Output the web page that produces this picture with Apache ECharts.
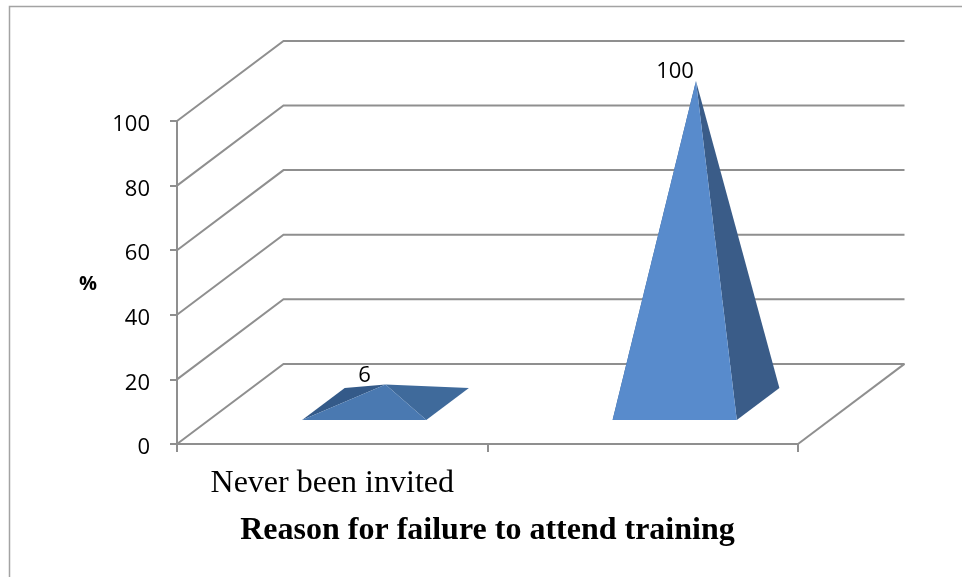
<!DOCTYPE html>
<html>
<head>
<meta charset="utf-8">
<style>
  html, body { margin: 0; padding: 0; background: #ffffff; }
  #chart { width: 962px; height: 577px; }
</style>
<script src="https://cdn.jsdelivr.net/npm/echarts@6/dist/echarts.min.js"></script>
</head>
<body>
<div id="chart"></div>
<script>
// Survey result: share of respondents per reason, shown as 3D pyramids.
const categories = ['Never been invited', ''];
const values = [6, 100];
const yTicks = [0, 20, 40, 60, 80, 100];
const xAxisTitle = 'Reason for failure to attend training';
const yAxisTitle = '%';

// Face shades per pyramid: left, right, front.
const leftFaceColors = ['#345A89', '#345A89'];
const rightFaceColors = ['#3F6A9B', '#3A5C88'];
const frontFaceColors = ['#4A79B1', '#588BCC'];

const LINE_COLOR = '#8f8f8f';
// Oblique projection: how far the full floor depth shifts a point,
// as a share of the band width and in value units.
const DEPTH_X = 0.343;
const DEPTH_Y = 24.8;
// Pyramid footprint within the floor, in band widths and depth fractions.
const HALF_BASE = 0.2;
const DEPTH_FRONT = 0.3;
const DEPTH_BACK = 0.7;
const DEPTH_APEX = 0.5;

// Projects a point in (category, offset along band, value, depth) to pixels.
function project(api, cat, u, val, depth) {
  const base = api.coord([cat, val]);
  const size = api.size([1, 1]);
  return [
    base[0] + (u + depth * DEPTH_X) * size[0],
    base[1] - depth * DEPTH_Y * size[1]
  ];
}

const lineStyle = { stroke: LINE_COLOR, lineWidth: 2, fill: null };

// Back wall lines with their diagonals on the side wall.
function renderWall(params, api) {
  const v = api.value(0);
  const last = categories.length - 1;
  const children = [{
    type: 'polyline',
    shape: {
      points: [
        project(api, 0, -0.5, v, 0),
        project(api, 0, -0.5, v, 1),
        project(api, last, 0.5, v, 1)
      ]
    },
    style: lineStyle
  }];
  // The floor also closes on the right-hand side.
  if (v === yTicks[0]) {
    children.push({
      type: 'line',
      shape: (function () {
        const a = project(api, last, 0.5, v, 1);
        const b = project(api, last, 0.5, v, 0);
        return { x1: a[0], y1: a[1], x2: b[0], y2: b[1] };
      })(),
      style: { stroke: LINE_COLOR, lineWidth: 2 }
    });
  }
  return { type: 'group', children: children };
}

function renderPyramid(params, api) {
  const i = params.dataIndex;
  const v = api.value(1);
  const fl = project(api, i, -HALF_BASE, 0, DEPTH_FRONT);
  const fr = project(api, i, HALF_BASE, 0, DEPTH_FRONT);
  const bl = project(api, i, -HALF_BASE, 0, DEPTH_BACK);
  const br = project(api, i, HALF_BASE, 0, DEPTH_BACK);
  const apex = project(api, i, 0, v, DEPTH_APEX);
  const face = function (pts, color) {
    return { type: 'polygon', shape: { points: pts }, style: { fill: color } };
  };
  return {
    type: 'group',
    children: [
      face([bl, apex, fl], leftFaceColors[i]),
      face([fr, apex, br], rightFaceColors[i]),
      face([fl, apex, fr], frontFaceColors[i]),
      {
        type: 'text',
        style: {
          text: String(values[i]),
          x: apex[0] - 21,
          y: apex[1] - 9,
          align: 'center',
          verticalAlign: 'middle',
          fill: '#000000',
          font: '22px "Open Sans"'
        }
      }
    ]
  };
}

const chart = echarts.init(document.getElementById('chart'), null, { renderer: 'canvas' });
chart.setOption({
  animation: false,
  backgroundColor: '#ffffff',
  graphic: [{
    // Outer chart frame: runs off the page on the right and bottom.
    type: 'polyline',
    silent: true,
    shape: { points: [[9.5, 577], [9.5, 6.5], [962, 6.5]] },
    style: { stroke: '#a3a3a3', lineWidth: 1.5, fill: null }
  }],
  grid: { left: 177, right: 164, top: 121, bottom: 133 },
  xAxis: {
    type: 'category',
    data: categories,
    name: xAxisTitle,
    nameLocation: 'middle',
    nameGap: 71,
    nameTextStyle: { fontFamily: 'Liberation Serif', fontWeight: 'bold', fontSize: 32, color: '#000' },
    axisLine: { lineStyle: { color: LINE_COLOR, width: 2 } },
    axisTick: { show: true, length: 8, alignWithLabel: false, lineStyle: { color: LINE_COLOR, width: 2 } },
    axisLabel: { interval: 0, margin: 24, fontFamily: 'Liberation Serif', fontSize: 32, color: '#000' },
    splitLine: { show: false }
  },
  yAxis: {
    type: 'value',
    min: 0,
    max: 100,
    interval: 20,
    name: yAxisTitle,
    nameLocation: 'middle',
    nameRotate: 0,
    nameGap: 80,
    nameTextStyle: { fontFamily: 'Open Sans', fontWeight: 'bold', fontSize: 20, color: '#000', verticalAlign: 'top', lineHeight: 3 },
    axisLine: { show: true, lineStyle: { color: LINE_COLOR, width: 2 } },
    axisTick: { show: true, length: 7, lineStyle: { color: LINE_COLOR, width: 2 } },
    axisLabel: { margin: 27, fontFamily: 'Open Sans', fontSize: 22, color: '#000', verticalAlign: 'top', lineHeight: 8 },
    splitLine: { show: false }
  },
  series: [
    {
      type: 'custom',
      coordinateSystem: 'cartesian2d',
      renderItem: renderWall,
      data: yTicks.map(function (t) { return [t]; }),
      encode: { y: 0 },
      silent: true,
      z: 1
    },
    {
      type: 'custom',
      coordinateSystem: 'cartesian2d',
      renderItem: renderPyramid,
      data: values.map(function (v, i) { return [i, v]; }),
      encode: { x: 0, y: 1 },
      silent: true,
      z: 3
    }
  ]
});
</script>
</body>
</html>
